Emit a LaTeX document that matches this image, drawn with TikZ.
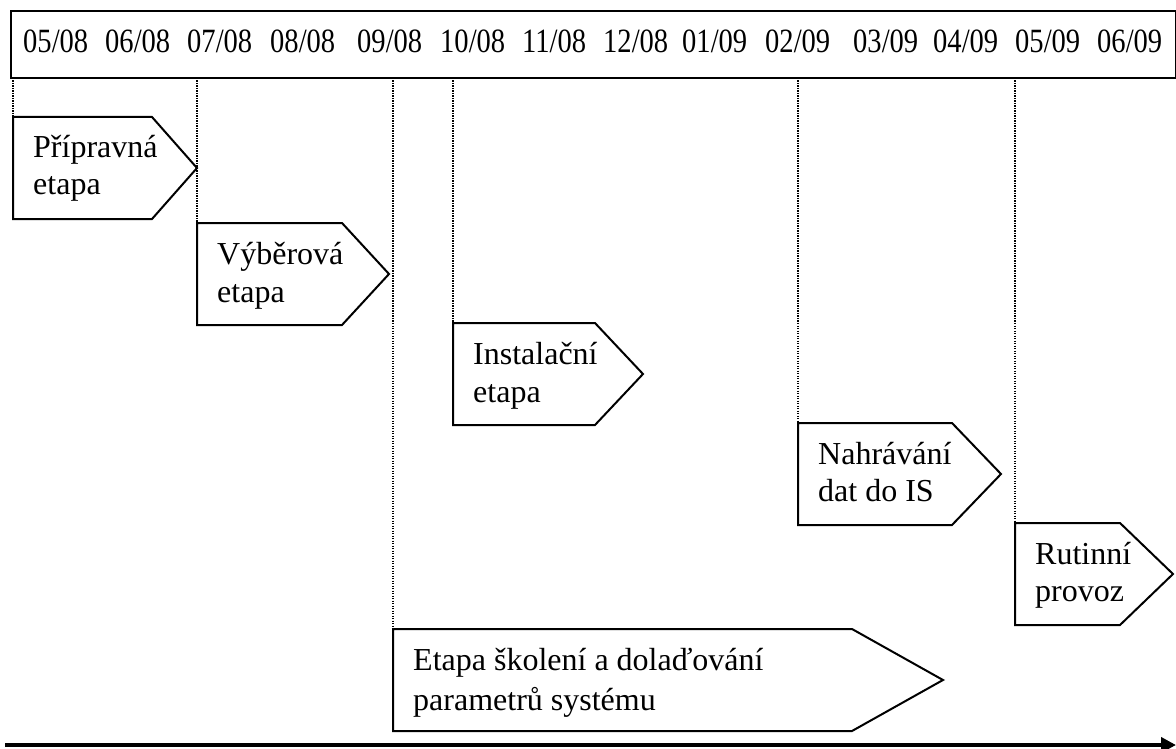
\documentclass[tikz,border=0pt]{standalone}
\usepackage{fontspec}
\setmainfont{Liberation Serif}
\usetikzlibrary{arrows.meta,calc}

\tikzset{
  phase/.style={draw=black, line width=2pt, line join=miter},
  phasetext/.style={anchor=base west, align=left, inner sep=0pt,
    font=\fontsize{32}{38}\selectfont},
  monthtext/.style={anchor=base west, inner sep=0pt,
    font=\fontsize{34}{34}\selectfont},
  guide/.style={line width=1.3pt, dash pattern=on 1.2pt off 1.3pt},
  headerbox/.style={draw=black, line width=2pt},
  timeaxis/.style={line width=4pt, -{Triangle[length=15pt,width=15pt]}}
}

% #1 name, #2 left, #3 top, #4 tip x, #5 shoulder depth, #6 height,
% #7 baseline gap between the two text lines, #8 text
% (the text node's base anchor sits on the baseline of its second line)
\newcommand{\phasebox}[8]{%
  \coordinate (#1-nw) at (#2,#3);
  \coordinate (#1-ne) at (#4-#5,#3);
  \coordinate (#1-tip) at (#4,#3+#6/2);
  \coordinate (#1-se) at (#4-#5,#3+#6);
  \coordinate (#1-sw) at (#2,#3+#6);
  \draw[phase] (#1-nw) -- (#1-ne) -- (#1-tip) -- (#1-se) -- (#1-sw) -- cycle;
  \node[phasetext, font=\fontsize{32}{#7}\selectfont] (#1) at (#2+20,#3+41+#7) {#8};
}

\begin{document}
\begin{tikzpicture}[x=1pt,y=-1pt]
  \useasboundingbox (0,0) rectangle (1176,749);

  % month header
  \draw[headerbox] (11,11) rectangle (1175.5,78);
  \foreach \x/\mm/\yy [count=\i] in {23/05/08,105/06/08,187/07/08,270/08/08,357/09/08,
      440/10/08,522/11/08,603/12/08,682/01/09,765/02/09,853/03/09,933/04/09,
      1015/05/09,1097/06/09}{
    \node[monthtext] (m\i) at (\x,53) {\scalebox{0.84}[1]{\mm/\yy}};
  }

  % phases
  \phasebox{prip}{13}{117}{197}{45}{102}{37}{Přípravná\\etapa}
  \phasebox{vyber}{197}{223}{389}{47}{102}{38}{Výběrová\\etapa}
  \phasebox{inst}{453}{323}{643}{48}{102}{38}{Instalační\\etapa}
  \phasebox{nahr}{798}{423}{1001}{49}{102}{37}{Nahrávání\\dat do IS}
  \phasebox{rutin}{1015}{523}{1173}{53}{102}{37}{Rutinní\\provoz}
  \phasebox{skol}{393}{629}{943}{91}{102}{40}{Etapa školení a dolaďování\\parametrů systému}

  % guide lines from the header down to each phase start
  \foreach \p/\x in {prip/13,vyber/197,skol/393,inst/453,nahr/798,rutin/1015}{
    \draw[guide] (\x,78) -- (\p-nw);
  }

  % time axis
  \coordinate (axis-start) at (5,745);
  \coordinate (axis-end) at (1176,745);
  \draw[timeaxis] (axis-start) -- (axis-end);
\end{tikzpicture}
\end{document}
